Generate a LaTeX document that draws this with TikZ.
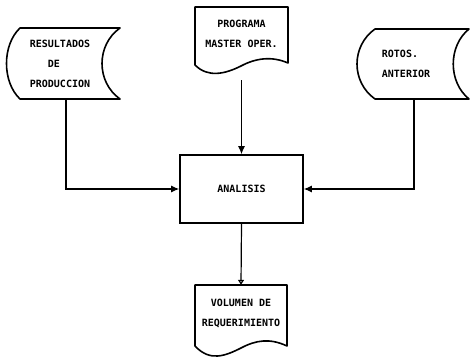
\documentclass[tikz,border=0pt]{standalone}
\usepackage{fontspec}
\setmonofont{DejaVu Sans Mono}
\usetikzlibrary{arrows.meta,positioning}
\tikzset{
  outline/.style={draw=black, line width=1.6pt, line join=round},
  labelbox/.style={font=\ttfamily\bfseries\fontsize{10}{20}\selectfont, inner sep=0pt, align=center},
  flow/.style={draw=black, line width=1.2pt, -{Latex[length=8pt,width=7pt]}},
  flowopen/.style={draw=black, line width=1.2pt, -{Triangle[open,length=5pt,width=6pt]}},
}

\begin{document}
\begin{tikzpicture}[x=1pt,y=-1pt]
\useasboundingbox (0,0) rectangle (470,358);
% stored data and document outlines
\draw[outline] (20,28) -- (120,28) .. controls (96,45) and (96,82) .. (120,99) -- (20,99) .. controls (2,82) and (2,45) .. (20,28) -- cycle;
\draw[outline] (375,29) -- (469,29) .. controls (448,46) and (448,82) .. (469,99) -- (375,99) .. controls (351,82) and (351,46) .. (375,29) -- cycle;
\draw[outline] (195,7) -- (288,7) -- (288,63) .. controls (272,56) and (256,58) .. (241,66) .. controls (225,74) and (208,78) .. (195,65) -- cycle;
\draw[outline] (195,285) -- (287,285) -- (287,346) .. controls (270,338) and (256,340) .. (241,348) .. controls (225,356) and (210,362) .. (195,346) -- cycle;
% texts
\node[labelbox, align=left, minimum width=106pt, minimum height=71pt] (res) at (60,63.5) {RESULTADOS\\\hphantom{RES}DE\\PRODUCCION};
\node[labelbox, minimum width=93pt, minimum height=53pt] (prog) at (241.5,33.5) {PROGRAMA\\MASTER OPER.};
\node[labelbox, align=left, minimum width=98pt, minimum height=70pt] (rotos) at (406,64) {ROTOS.\\ANTERIOR};
\node[labelbox, draw, line width=1.6pt, minimum width=123pt, minimum height=68pt] (ana) at (241.5,189) {ANALISIS};
\node[labelbox, minimum width=92pt, minimum height=56pt] (vol) at (241,313) {VOLUMEN DE\\REQUERIMIENTO};
% connectors
\draw[flow] ([xshift=6pt]res.south) |- (ana.west);
\draw[flow] ([xshift=8pt]rotos.south) |- (ana.east);
\draw[flow, shorten <=20pt] (prog.south) -- (ana.north);
\draw[flowopen] (ana.south) -- (vol.north);
\end{tikzpicture}
\end{document}
